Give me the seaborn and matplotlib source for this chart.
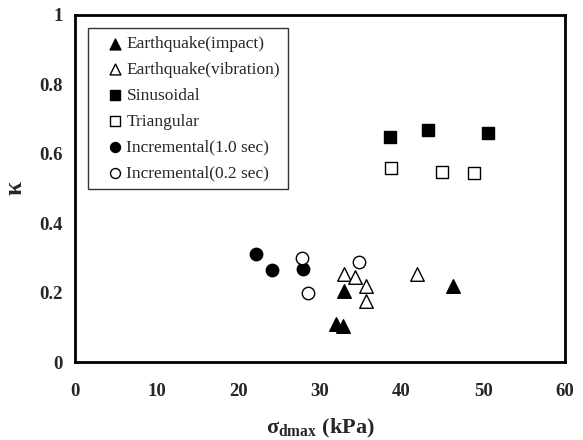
import matplotlib
matplotlib.use("Agg")
import matplotlib.pyplot as plt
import seaborn as sns
import pandas as pd

# Measured peak deviator stress (kPa) and kappa for each loading type
eq_impact_x = [32.9, 32.0, 32.8, 46.3]
eq_impact_y = [0.205, 0.110, 0.104, 0.219]

eq_vib_x = [32.9, 34.3, 35.6, 35.6, 41.9]
eq_vib_y = [0.254, 0.245, 0.219, 0.176, 0.254]

sinus_x = [38.6, 43.2, 50.6]
sinus_y = [0.648, 0.669, 0.660]

tri_x = [38.7, 44.9, 48.9]
tri_y = [0.559, 0.548, 0.545]

inc10_x = [22.2, 24.1, 27.9]
inc10_y = [0.311, 0.265, 0.268]

inc02_x = [27.8, 28.5, 34.8]
inc02_y = [0.300, 0.199, 0.288]

labels = ["Earthquake(impact)", "Earthquake(vibration)", "Sinusoidal",
          "Triangular", "Incremental(1.0 sec)", "Incremental(0.2 sec)"]
x_ticks = [0, 10, 20, 30, 40, 50, 60]
y_ticks = [0, 0.2, 0.4, 0.6, 0.8, 1]
y_tick_labels = ["0", "0.2", "0.4", "0.6", "0.8", "1"]

sns.set_style("white")
plt.rcParams["font.family"] = ["Liberation Serif", "DejaVu Serif"]
plt.rcParams["mathtext.fontset"] = "custom"
plt.rcParams["mathtext.rm"] = "Liberation Serif:bold"
plt.rcParams["mathtext.bf"] = "Liberation Serif:bold"

series = [
    (eq_impact_x, eq_impact_y, "^", "black", 95),
    (eq_vib_x, eq_vib_y, "^", "white", 95),
    (sinus_x, sinus_y, "s", "black", 75),
    (tri_x, tri_y, "s", "white", 75),
    (inc10_x, inc10_y, "o", "black", 80),
    (inc02_x, inc02_y, "o", "white", 80),
]

fig = plt.figure(figsize=(5.83, 4.40), dpi=100)
ax = fig.add_axes([0.1286, 0.177, 0.8404, 0.789])

for (xs, ys, mk, fc, sz), lab in zip(series, labels):
    df = pd.DataFrame({"x": xs, "y": ys})
    sns.scatterplot(data=df, x="x", y="y", marker=mk, color=fc,
                    edgecolor="black", linewidth=1.0, s=sz, label=lab, ax=ax,
                    zorder=3)

ax.set_xlim(0, 60)
ax.set_ylim(0, 1)
ax.set_xticks(x_ticks)
ax.set_yticks(y_ticks)
ax.set_yticklabels(y_tick_labels)
ax.tick_params(axis="both", direction="in", length=4, width=1,
               labelsize=13.5)
ax.tick_params(axis="x", pad=15)
ax.tick_params(axis="y", pad=9)
for lab in ax.get_xticklabels() + ax.get_yticklabels():
    lab.set_fontweight("bold")

for sp in ax.spines.values():
    sp.set_visible(True)
    sp.set_color("black")
    sp.set_linewidth(2.0)

ax.set_xlabel(r"σ$_{\mathrm{dmax}}$ (kPa)", fontsize=16, fontweight="bold",
              labelpad=12)
ax.set_ylabel("κ", fontsize=18, fontweight="bold", labelpad=9)

leg = ax.legend(loc="upper left", bbox_to_anchor=(0.027, 0.962),
                frameon=True, fancybox=False, edgecolor="black",
                fontsize=12.5, handlelength=2.2, handletextpad=-0.45,
                labelspacing=0.56, borderpad=0.45, borderaxespad=0,
                markerscale=0.8)
leg.get_frame().set_linewidth(1.0)

fig.savefig("out.png", dpi=100, facecolor="white")
